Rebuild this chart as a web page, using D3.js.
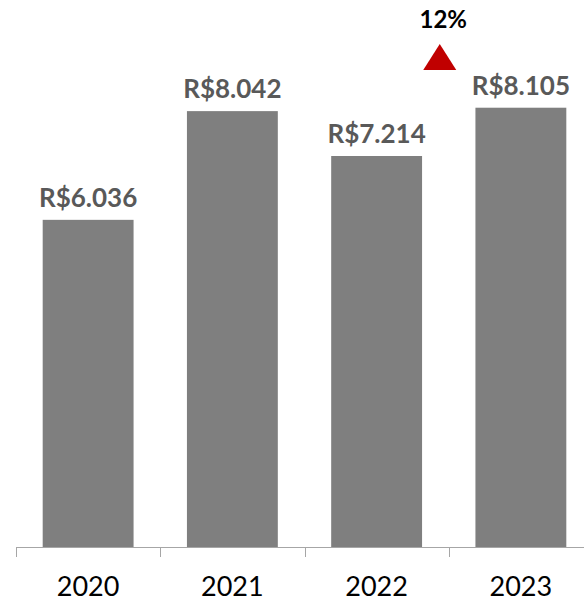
<!DOCTYPE html>
<html><head><meta charset="utf-8">
<script src="https://cdn.jsdelivr.net/npm/d3@7"></script>
<style>html,body{margin:0;padding:0;background:#fff;}svg{display:block;}</style>
</head><body>
<script>
const categories = ["2020", "2021", "2022", "2023"];
const values = [6036, 8042, 7214, 8105];
const valueLabels = ["R$6.036", "R$8.042", "R$7.214", "R$8.105"];
const growthLabel = "12%";

const W = 584, H = 601;
const svg = d3.select("body").append("svg").attr("width", W).attr("height", H);

const x = d3.scaleBand().domain(categories).range([16, 593]).paddingInner(0.37).paddingOuter(0.185);
const y = d3.scaleLinear().domain([0, 10000]).range([547, 5]);

svg.selectAll("rect.bar").data(values).join("rect")
  .attr("class", "bar")
  .attr("x", (d, i) => x(categories[i]))
  .attr("width", x.bandwidth())
  .attr("y", d => y(d))
  .attr("height", d => y(0) - y(d))
  .attr("fill", "#7f7f7f");

// axis line
svg.append("line").attr("x1", 16).attr("x2", W).attr("y1", y(0) + 0.5).attr("y2", y(0) + 0.5)
  .attr("stroke", "#a6a6a6").attr("stroke-width", 1);
// boundary ticks
const step = x.step();
const bounds = categories.map((c, i) => 16 + i * step);
svg.selectAll("line.tick").data(bounds).join("line")
  .attr("class", "tick")
  .attr("x1", d => Math.round(d) + 0.5).attr("x2", d => Math.round(d) + 0.5)
  .attr("y1", y(0)).attr("y2", y(0) + 10)
  .attr("stroke", "#a6a6a6").attr("stroke-width", 1);

// category labels
svg.selectAll("text.cat").data(categories).join("text")
  .attr("class", "cat")
  .attr("x", d => x(d) + x.bandwidth() / 2)
  .attr("y", 596)
  .attr("text-anchor", "middle")
  .attr("font-family", "Lato, sans-serif")
  .attr("font-size", 27)
  .attr("fill", "#000")
  .text(d => d);

// value labels
svg.selectAll("text.val").data(values).join("text")
  .attr("class", "val")
  .attr("x", (d, i) => x(categories[i]) + x.bandwidth() / 2)
  .attr("y", d => y(d) - 13)
  .attr("text-anchor", "middle")
  .attr("font-family", "Lato, sans-serif")
  .attr("font-weight", "bold")
  .attr("font-size", 26)
  .attr("fill", "#595959")
  .text((d, i) => valueLabels[i]);

// growth indicator between 2022 and 2023
const gx = (x("2022") + x.bandwidth() + x("2023")) / 2 - 9;
svg.append("path")
  .attr("d", `M${gx - 16.5},70 L${gx + 16.5},70 L${gx},44 Z`)
  .attr("fill", "#c00000");
svg.append("text")
  .attr("x", gx + 3.5).attr("y", 28)
  .attr("text-anchor", "middle")
  .attr("font-family", "Lato, sans-serif")
  .attr("font-weight", "bold")
  .attr("font-size", 24)
  .attr("fill", "#000")
  .text(growthLabel);
</script>
</body></html>
